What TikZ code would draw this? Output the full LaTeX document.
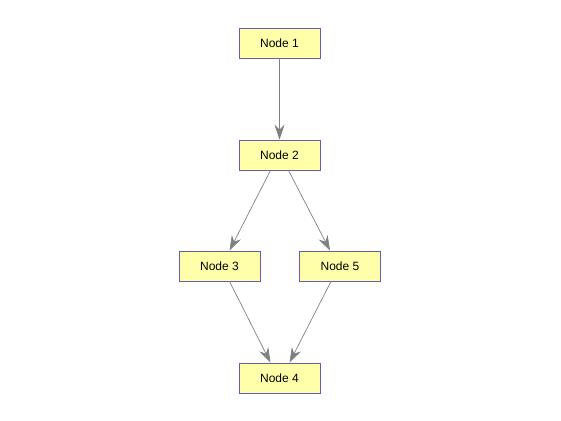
\documentclass[tikz,border=0pt]{standalone}
\usepackage{fontspec}
\setmainfont{Liberation Sans}
\usetikzlibrary{arrows.meta,calc}
\definecolor{nodefill}{RGB}{255,255,170}
\definecolor{nodeline}{RGB}{96,96,176}
\definecolor{edgecol}{RGB}{128,128,128}
\tikzset{
  nodebox/.style={draw=nodeline, fill=nodefill, line width=0.8pt, minimum width=81pt, minimum height=30pt, inner sep=0pt, font=\fontsize{12}{14}\selectfont},
  edge/.style={draw=edgecol, line width=0.7pt, -{Stealth[length=15pt,width=10pt,inset=5pt]}}
}
\begin{document}
\begin{tikzpicture}[x=1pt,y=-1pt]
\useasboundingbox (0,0) rectangle (561,420);
\node[nodebox] (n1) at (279.5,43) {Node 1};
\node[nodebox] (n2) at (279.5,155) {Node 2};
\node[nodebox] (n3) at (219.5,266) {Node 3};
\node[nodebox] (n5) at (340,266) {Node 5};
\node[nodebox] (n4) at (279.5,378) {Node 4};
\draw[edge] (n1.south) -- (n2.north);
\draw[edge] ($(n2.south)+(-9,0)$) -- ($(n3.north)+(10,0)$);
\draw[edge] ($(n2.south)+(9,0)$) -- ($(n5.north)+(-10,0)$);
\draw[edge] ($(n3.south)+(10,0)$) -- ($(n4.north)+(-9,0)$);
\draw[edge] ($(n5.south)+(-9,0)$) -- ($(n4.north)+(10,0)$);
\end{tikzpicture}
\end{document}
